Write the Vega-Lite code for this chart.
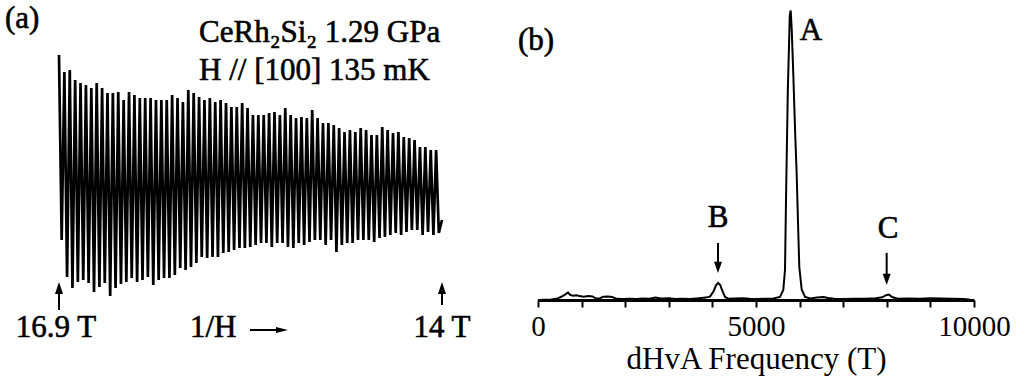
{
  "$schema": "https://vega.github.io/schema/vega-lite/v6.json",
  "padding": 0,
  "background": "white",
  "config": {"view": {"stroke": null}, "text": {"font": "Liberation Serif", "fontSize": 31, "color": "#000", "baseline": "alphabetic", "stroke": "#000", "strokeWidth": 0.6}},
  "spacing": 18,
  "bounds": "flush",
  "datasets": {
    "osc": [
      {"c":0,"v":125},{"c":0.5,"v":-60},{"c":1,"v":108},{"c":1.5,"v":-97},{"c":2,"v":110},{"c":2.5,"v":-108},{"c":3,"v":100},{"c":3.5,"v":-102},{"c":4,"v":97},{"c":4.5,"v":-100},
      {"c":5,"v":95},{"c":5.5,"v":-103},{"c":6,"v":92},{"c":6.5,"v":-112},{"c":7,"v":97},{"c":7.5,"v":-107},{"c":8,"v":92},{"c":8.5,"v":-103},{"c":9,"v":87},{"c":9.5,"v":-116},
      {"c":10,"v":87},{"c":10.5,"v":-108},{"c":11,"v":88},{"c":11.5,"v":-104},{"c":12,"v":80},{"c":12.5,"v":-102},{"c":13,"v":88},{"c":13.5,"v":-98},{"c":14,"v":85},{"c":14.5,"v":-102},
      {"c":15,"v":82},{"c":15.5,"v":-100},{"c":16,"v":82},{"c":16.5,"v":-97},{"c":17,"v":82},{"c":17.5,"v":-105},{"c":18,"v":80},{"c":18.5,"v":-100},{"c":19,"v":80},{"c":19.5,"v":-98},
      {"c":20,"v":80},{"c":20.5,"v":-98},{"c":21,"v":85},{"c":21.5,"v":-95},{"c":22,"v":82},{"c":22.5,"v":-88},{"c":23,"v":78},{"c":23.5,"v":-90},{"c":24,"v":90},{"c":24.5,"v":-87},
      {"c":25,"v":87},{"c":25.5,"v":-83},{"c":26,"v":83},{"c":26.5,"v":-77},{"c":27,"v":80},{"c":27.5,"v":-78},{"c":28,"v":82},{"c":28.5,"v":-77},{"c":29,"v":78},{"c":29.5,"v":-77},
      {"c":30,"v":80},{"c":30.5,"v":-73},{"c":31,"v":77},{"c":31.5,"v":-72},{"c":32,"v":73},{"c":32.5,"v":-70},{"c":33,"v":73},{"c":33.5,"v":-68},{"c":34,"v":77},{"c":34.5,"v":-68},
      {"c":35,"v":72},{"c":35.5,"v":-67},{"c":36,"v":65},{"c":36.5,"v":-65},{"c":37,"v":65},{"c":37.5,"v":-63},{"c":38,"v":65},{"c":38.5,"v":-63},{"c":39,"v":67},{"c":39.5,"v":-67},
      {"c":40,"v":68},{"c":40.5,"v":-63},{"c":41,"v":65},{"c":41.5,"v":-63},{"c":42,"v":72},{"c":42.5,"v":-67},{"c":43,"v":65},{"c":43.5,"v":-68},{"c":44,"v":62},{"c":44.5,"v":-63},
      {"c":45,"v":63},{"c":45.5,"v":-65},{"c":46,"v":62},{"c":46.5,"v":-62},{"c":47,"v":70},{"c":47.5,"v":-60},{"c":48,"v":62},{"c":48.5,"v":-60},{"c":49,"v":57},{"c":49.5,"v":-65},
      {"c":50,"v":57},{"c":50.5,"v":-60},{"c":51,"v":55},{"c":51.5,"v":-72},{"c":52,"v":52},{"c":52.5,"v":-65},{"c":53,"v":48},{"c":53.5,"v":-63},{"c":54,"v":50},{"c":54.5,"v":-63},
      {"c":55,"v":48},{"c":55.5,"v":-60},{"c":56,"v":52},{"c":56.5,"v":-60},{"c":57,"v":50},{"c":57.5,"v":-60},{"c":58,"v":45},{"c":58.5,"v":-62},{"c":59,"v":45},{"c":59.5,"v":-58},
      {"c":60,"v":53},{"c":60.5,"v":-57},{"c":61,"v":50},{"c":61.5,"v":-55},{"c":62,"v":47},{"c":62.5,"v":-53},{"c":63,"v":48},{"c":63.5,"v":-55},{"c":64,"v":43},{"c":64.5,"v":-52},
      {"c":65,"v":42},{"c":65.5,"v":-50},{"c":66,"v":40},{"c":66.5,"v":-50},{"c":67,"v":33},{"c":67.5,"v":-55},{"c":68,"v":33},{"c":68.5,"v":-52},{"c":69,"v":30},{"c":69.5,"v":-55},
      {"c":70,"v":30},{"c":70.5,"v":-53},{"c":71.09,"v":-40}
    ],
    "textA_left": [
      {"c":-10.02,"v":152,"t":"(a)"},
      {"c":25.99,"v":138,"t":"CeRh₂Si₂ 1.29 GPa"},
      {"c":25.99,"v":100,"t":"H // [100] 135 mK"},
      {"c":24.3,"v":-157,"t":"1/H"}
    ],
    "textA_center": [
      {"c":-0.56,"v":-157,"t":"16.9 T"},
      {"c":71.09,"v":-157,"t":"14 T"}
    ],
    "shaftA": [
      {"c":0,"v":-130,"v2":-108},
      {"c":71.09,"v":-125,"v2":-108}
    ],
    "headA": [
      {"c":0,"v":-102},
      {"c":71.09,"v":-102}
    ],
    "hArrow": [{"c":35.45,"c2":41.5,"v":-150}],
    "hHead": [{"c":42.5,"v":-150}],
    "spec": [
      {"f":0,"r":0},{"f":300,"r":0.002},{"f":450,"r":0.005},{"f":550,"r":0.012},{"f":620,"r":0.018},{"f":688,"r":0.025},{"f":740,"r":0.017},{"f":800,"r":0.014},{"f":880,"r":0.016},{"f":950,"r":0.013},
      {"f":1050,"r":0.011},{"f":1150,"r":0.013},{"f":1250,"r":0.012},{"f":1330,"r":0.005},{"f":1420,"r":0.006},{"f":1500,"r":0.011},{"f":1600,"r":0.012},{"f":1700,"r":0.01},{"f":1800,"r":0.004},{"f":1950,"r":0.003},
      {"f":2100,"r":0.004},{"f":2250,"r":0.003},{"f":2400,"r":0.005},{"f":2550,"r":0.004},{"f":2700,"r":0.008},{"f":2800,"r":0.005},{"f":3000,"r":0.006},{"f":3150,"r":0.003},{"f":3300,"r":0.004},{"f":3500,"r":0.003},
      {"f":3700,"r":0.006},{"f":3850,"r":0.008},{"f":3950,"r":0.012},{"f":4030,"r":0.03},{"f":4080,"r":0.048},{"f":4130,"r":0.057},{"f":4180,"r":0.05},{"f":4230,"r":0.03},{"f":4290,"r":0.01},{"f":4370,"r":0.004},
      {"f":4500,"r":0.005},{"f":4700,"r":0.006},{"f":4850,"r":0.004},{"f":5000,"r":0.003},{"f":5200,"r":0.004},{"f":5400,"r":0.005},{"f":5550,"r":0.01},{"f":5626,"r":0.033},{"f":5665,"r":0.1},{"f":5690,"r":0.35},
      {"f":5730,"r":0.7},{"f":5775,"r":0.95},{"f":5796,"r":0.965},{"f":5820,"r":0.9},{"f":5856,"r":0.75},{"f":5900,"r":0.55},{"f":5933,"r":0.42},{"f":5965,"r":0.25},{"f":5993,"r":0.11},{"f":6048,"r":0.035},
      {"f":6124,"r":0.01},{"f":6250,"r":0.005},{"f":6400,"r":0.008},{"f":6550,"r":0.01},{"f":6650,"r":0.007},{"f":6800,"r":0.004},{"f":7000,"r":0.003},{"f":7250,"r":0.004},{"f":7500,"r":0.004},{"f":7750,"r":0.006},
      {"f":7900,"r":0.009},{"f":7980,"r":0.016},{"f":8050,"r":0.018},{"f":8120,"r":0.01},{"f":8250,"r":0.004},{"f":8500,"r":0.005},{"f":8750,"r":0.004},{"f":9000,"r":0.006},{"f":9250,"r":0.005},{"f":9500,"r":0.004},
      {"f":9750,"r":0.003},{"f":9900,"r":0.002}
    ],
    "textB_center": [
      {"f":6261,"r":0.867,"t":"A"},
      {"f":4128,"r":0.243,"t":"B"},
      {"f":8028,"r":0.207,"t":"C"}
    ],
    "textB_left": [{"f":-459,"r":0.833,"t":"(b)"}],
    "shaftB": [
      {"f":4128,"r":0.19,"r2":0.12},
      {"f":7997,"r":0.157,"r2":0.085}
    ],
    "headB": [
      {"f":4128,"r":0.09},
      {"f":7997,"r":0.05}
    ]
  },
  "hconcat": [
    {
      "width": 520,
      "height": 386,
      "encoding": {
        "x": {"field": "c", "type": "quantitative", "scale": {"domain": [-10.95, 85.57], "nice": false, "zero": false}, "axis": null},
        "y": {"field": "v", "type": "quantitative", "scale": {"domain": [-206, 180], "nice": false, "zero": false}, "axis": null}
      },
      "layer": [
        {"data": {"name": "osc"}, "mark": {"type": "line", "color": "#000", "strokeWidth": 2.7, "interpolate": "linear"}},
        {"data": {"name": "textA_left"}, "mark": {"type": "text", "align": "left"}, "encoding": {"text": {"field": "t"}}},
        {"data": {"name": "textA_center"}, "mark": {"type": "text", "align": "center"}, "encoding": {"text": {"field": "t"}}},
        {"data": {"name": "shaftA"}, "mark": {"type": "rule", "color": "#000", "strokeWidth": 2}, "encoding": {"y2": {"field": "v2"}}},
        {"data": {"name": "headA"}, "mark": {"type": "point", "shape": "M-1,3L1,3L0,0Z", "filled": true, "color": "#000", "opacity": 1, "size": 64}},
        {"data": {"name": "hArrow"}, "mark": {"type": "rule", "color": "#000", "strokeWidth": 2}, "encoding": {"x2": {"field": "c2"}}},
        {"data": {"name": "hHead"}, "mark": {"type": "point", "shape": "M-4,-1L-4,1L0,0Z", "filled": true, "color": "#000", "opacity": 1, "size": 36}}
      ]
    },
    {
      "width": 436,
      "height": 300,
      "encoding": {
        "x": {"field": "f", "type": "quantitative", "scale": {"domain": [0, 10000], "nice": false}, "axis": {
          "values": [0,1000,2000,3000,4000,5000,6000,7000,8000,9000,10000],
          "format": "d",
          "labelExpr": "datum.value % 5000 === 0 ? datum.label : ''",
          "labelOverlap": false,
          "labelFlush": false,
          "grid": false,
          "tickSize": 7,
          "tickWidth": 2, "tickColor": "#000",
          "domainWidth": 3, "domainColor": "#000",
          "labelColor": "#000", "labelFont": "Liberation Serif", "labelFontSize": 29, "labelPadding": 5,
          "title": "dHvA Frequency (T)", "titleFont": "Liberation Serif", "titleFontSize": 31, "titleFontWeight": "normal", "titleColor": "#000", "titlePadding": 3
        }},
        "y": {"field": "r", "type": "quantitative", "scale": {"domain": [0, 1], "nice": false}, "axis": null}
      },
      "layer": [
        {"data": {"name": "spec"}, "mark": {"type": "line", "color": "#000", "strokeWidth": 2}},
        {"data": {"name": "textB_center"}, "mark": {"type": "text", "align": "center"}, "encoding": {"text": {"field": "t"}}},
        {"data": {"name": "textB_left"}, "mark": {"type": "text", "align": "left"}, "encoding": {"text": {"field": "t"}}},
        {"data": {"name": "shaftB"}, "mark": {"type": "rule", "color": "#000", "strokeWidth": 2}, "encoding": {"y2": {"field": "r2"}}},
        {"data": {"name": "headB"}, "mark": {"type": "point", "shape": "M-1,-2.8L1,-2.8L0,0Z", "filled": true, "color": "#000", "opacity": 1, "size": 64}}
      ]
    }
  ]
}
